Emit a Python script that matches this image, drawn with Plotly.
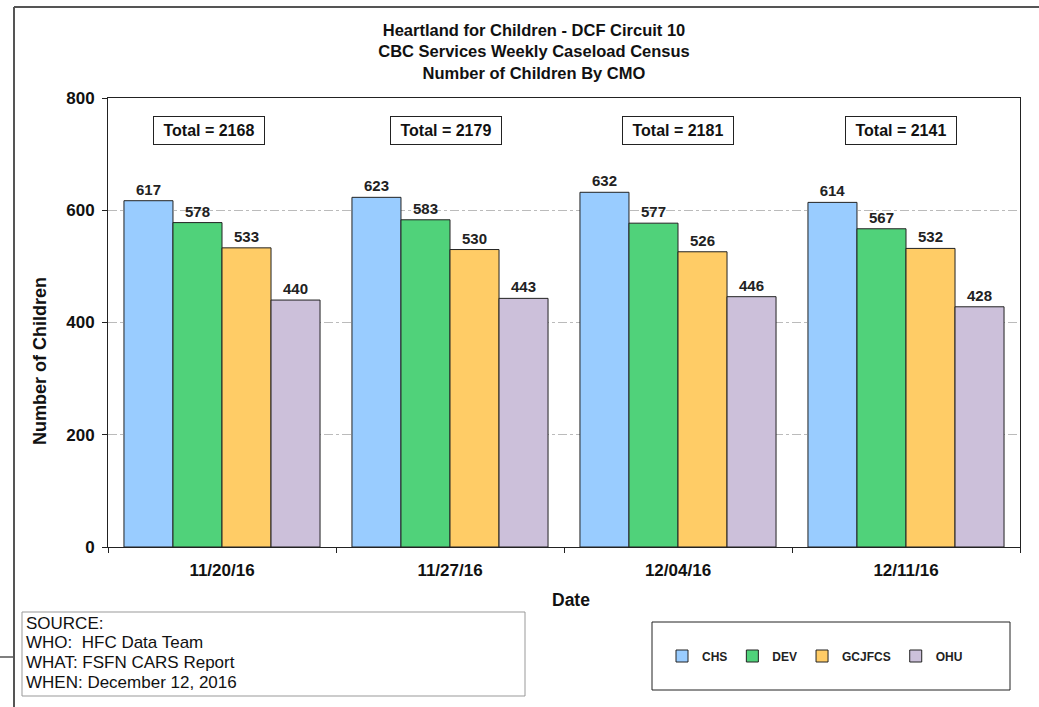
import plotly.graph_objects as go

dates = ["11/20/16", "11/27/16", "12/04/16", "12/11/16"]
series_names = ["CHS", "DEV", "GCJFCS", "OHU"]
chs = [617, 623, 632, 614]
dev = [578, 583, 577, 567]
gcjfcs = [533, 530, 526, 532]
ohu = [440, 443, 446, 428]
totals = [2168, 2179, 2181, 2141]
y_ticks = [0, 200, 400, 600, 800]
colors = ["#99CCFF", "#50D27A", "#FFCC66", "#CCC0DA"]
source_lines = ["SOURCE:", "WHO:  HFC Data Team", "WHAT: FSFN CARS Report", "WHEN: December 12, 2016"]

W, H = 1039, 707
L, R, T, B = 108, 19, 98, 160
PW, PH = W - L - R, H - T - B


def px(x):
    return (x - L) / PW


def py(y):
    return (H - B - y) / PH


FONT = "Liberation Sans, Arial, sans-serif"
INK = "#111111"

fig = go.Figure()
for name, vals, col in zip(series_names, [chs, dev, gcjfcs, ohu], colors):
    fig.add_trace(go.Bar(
        x=dates, y=vals, name=name,
        marker=dict(color=col, line=dict(color="#222222", width=1)),
        text=[str(v) for v in vals], textposition="outside",
        textfont=dict(family=FONT, size=15, color="#222222", weight="bold"),
        cliponaxis=False,
    ))

annotations = []
total_box_shift = [-13, -4, 0, -5]
for d, t, sh in zip(dates, totals, total_box_shift):
    annotations.append(dict(
        x=d, y=742, xref="x", yref="y", text=f"&nbsp;Total = {t}&nbsp;",
        showarrow=False, font=dict(family=FONT, size=16, color=INK, weight="bold"),
        bordercolor="#222222", borderwidth=1, borderpad=5, bgcolor="white",
        xshift=sh,
    ))

src_y = [623, 642, 662, 682]
for line, yy in zip(source_lines, src_y):
    annotations.append(dict(
        x=px(24), y=py(yy), xref="paper", yref="paper", xanchor="left", yanchor="middle",
        text=line, align="left", showarrow=False,
        font=dict(family=FONT, size=17, color=INK),
    ))

annotations.append(dict(
    x=px(40), y=py(361), xref="paper", yref="paper", xanchor="center", yanchor="middle",
    text="Number of Children", textangle=-90, showarrow=False,
    font=dict(family=FONT, size=18, color=INK, weight="bold"),
))
annotations.append(dict(
    x=px(571), y=py(600), xref="paper", yref="paper", xanchor="center", yanchor="middle",
    text="Date", showarrow=False,
    font=dict(family=FONT, size=17.5, color=INK, weight="bold"),
))

shapes = [
    dict(type="line", xref="paper", yref="paper", x0=px(14), x1=px(1039), y0=py(7), y1=py(7),
         line=dict(color="#555555", width=2)),
    dict(type="line", xref="paper", yref="paper", x0=px(14), x1=px(14), y0=py(7), y1=py(707),
         line=dict(color="#555555", width=2)),
    dict(type="line", xref="paper", yref="paper", x0=px(0), x1=px(14), y0=py(657), y1=py(657),
         line=dict(color="#555555", width=1.5)),
    dict(type="rect", xref="paper", yref="paper", x0=px(22), x1=px(525), y0=py(612), y1=py(696),
         line=dict(color="#999999", width=1), fillcolor="rgba(0,0,0,0)"),
    dict(type="rect", xref="paper", yref="paper", x0=px(652), x1=px(1010), y0=py(622), y1=py(690),
         line=dict(color="#222222", width=1), fillcolor="rgba(0,0,0,0)"),
]

fig.update_layout(
    width=W, height=H,
    margin=dict(l=L, r=R, t=T, b=B),
    paper_bgcolor="white", plot_bgcolor="white",
    font=dict(family=FONT, color=INK),
    title=dict(
        text="Heartland for Children - DCF Circuit 10<br>CBC Services Weekly Caseload Census<br>Number of Children By CMO",
        x=534 / W, xanchor="center", xref="container",
        y=1 - 36 / H, yanchor="top", yref="container",
        font=dict(family=FONT, size=16.5, color=INK, weight="bold"),
    ),
    barmode="group", bargap=0.14, bargroupgap=0,
    showlegend=True,
    legend=dict(
        orientation="h", x=px(662), y=py(656), xanchor="left", yanchor="middle",
        xref="paper", yref="paper",
        font=dict(family=FONT, size=12, color="#222222", weight="bold"),
        bgcolor="rgba(0,0,0,0)", borderwidth=0,
        itemwidth=30,
    ),
    annotations=annotations,
    shapes=shapes,
    xaxis=dict(
        type="category", showline=True, linecolor="#222222", linewidth=1, mirror=True,
        ticks="outside", tickson="boundaries", ticklen=5, tickcolor="#222222",
        tickfont=dict(family=FONT, size=17, color=INK, weight="bold"),
        ticklabelstandoff=8,
        showgrid=False,
    ),
    yaxis=dict(
        range=[0, 800], tickvals=y_ticks, showline=True, linecolor="#222222", linewidth=1, mirror=True,
        ticks="outside", ticklen=5, tickcolor="#222222",
        tickfont=dict(family=FONT, size=17, color=INK, weight="bold"),
        ticklabelstandoff=4,
        showgrid=True, gridcolor="#BBBBBB", griddash="dashdot", gridwidth=1,
        zeroline=False,
    ),
)

fig.write_html(
    "out.html",
    config={"displayModeBar": False},
    post_script="document.body.style.margin='0';document.body.style.overflow='hidden';",
)
